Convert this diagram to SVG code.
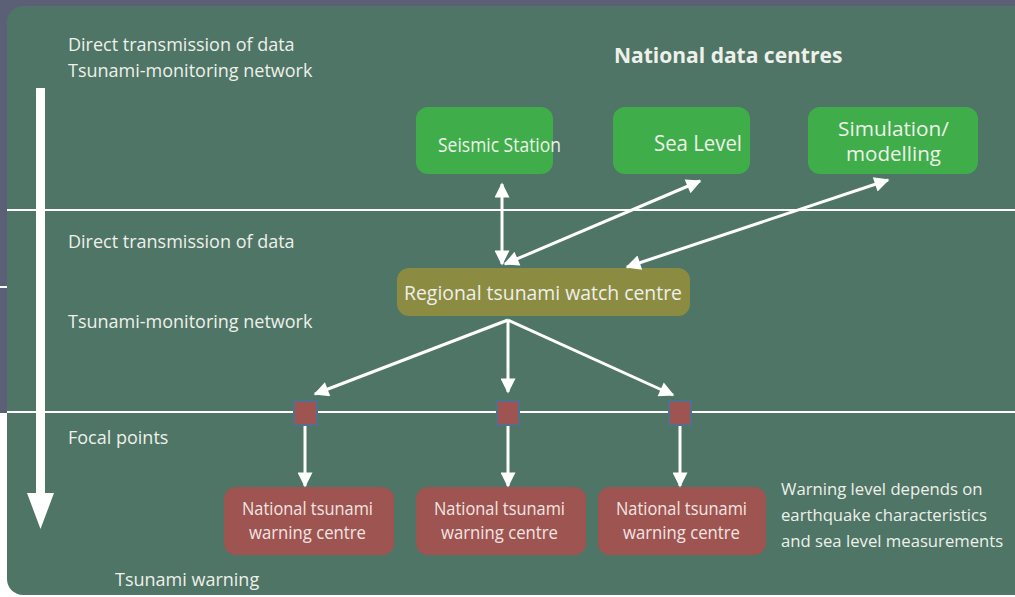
<svg xmlns="http://www.w3.org/2000/svg" width="1015" height="597" viewBox="0 0 1015 597">
<defs>
<style>
.t{font-family:"Open Sans","Noto Sans","Liberation Sans",sans-serif;fill:#eef0ea;}
.lbl{font-size:18px;}
.note{font-size:16.7px;}
.nat{font-size:18px;fill:#f3e4e2;}
.ln{stroke:#fff;stroke-width:3;fill:none;}
.sep{stroke:#fff;stroke-width:2;}
.green{fill:#3fae4a;}
.red{fill:#9e5450;}
.focal{fill:#9e5450;stroke:#51708a;stroke-width:2;}
</style>
<marker id="ah" viewBox="0 0 10 10" refX="9" refY="5" markerWidth="6" markerHeight="5" markerUnits="strokeWidth" orient="auto-start-reverse">
<path d="M0,0 L10,5 L0,10 Z" fill="#fff"/>
</marker>
</defs>
<rect x="0" y="0" width="1015" height="597" fill="#fff"/>
<rect x="0" y="0" width="1015" height="413" fill="#5b6077"/>
<rect x="7" y="6" width="1030" height="589" rx="16" fill="#4e7565"/>
<line x1="0" y1="287" x2="7" y2="287" class="sep"/>
<line x1="7" y1="210" x2="1015" y2="210" class="sep"/>
<line x1="7" y1="412" x2="1015" y2="412" class="sep"/>
<g id="flow-arrow">
<rect x="36" y="88" width="9" height="408" fill="#fff"/>
<path d="M27,493 L54,493 L40.5,529 Z" fill="#fff"/>
</g>
<g id="side-labels">
<text class="t lbl" x="68" y="51">Direct transmission of data</text>
<text class="t lbl" x="68" y="77">Tsunami-monitoring network</text>
<text class="t lbl" x="68" y="248">Direct transmission of data</text>
<text class="t lbl" x="68" y="328">Tsunami-monitoring network</text>
<text class="t lbl" x="68" y="444">Focal points</text>
<text class="t lbl" x="115" y="586">Tsunami warning</text>
<text class="t" x="614" y="63" font-size="21" font-weight="bold">National data centres</text>
</g>
<g id="seismic">
<rect class="green" x="416" y="107" width="137" height="67" rx="12"/>
<text class="t" x="438" y="152" font-size="20" textLength="123" lengthAdjust="spacingAndGlyphs">Seismic Station</text>
</g>
<g id="sealevel">
<rect class="green" x="613" y="107" width="137" height="67" rx="12"/>
<text class="t" x="654" y="151" font-size="21" textLength="88" lengthAdjust="spacingAndGlyphs">Sea Level</text>
</g>
<g id="simulation">
<rect class="green" x="808" y="107" width="170" height="67" rx="12"/>
<text class="t" x="838" y="136" font-size="20" textLength="111" lengthAdjust="spacingAndGlyphs">Simulation/</text>
<text class="t" x="846" y="161" font-size="20" textLength="95" lengthAdjust="spacingAndGlyphs">modelling</text>
</g>
<g id="regional">
<rect x="397" y="268" width="293" height="48" rx="12" fill="#8b8b41"/>
<text class="t" x="404" y="300" font-size="20" textLength="278" lengthAdjust="spacingAndGlyphs">Regional tsunami watch centre</text>
</g>
<g id="focal1"><rect class="focal" x="294" y="401" width="23" height="24"/></g>
<g id="focal2"><rect class="focal" x="497" y="401" width="22" height="24"/></g>
<g id="focal3"><rect class="focal" x="669" y="401" width="22" height="24"/></g>
<g id="nat1">
<rect class="red" x="224" y="487" width="170" height="68" rx="12"/>
<text class="t nat" x="242" y="515" textLength="131" lengthAdjust="spacingAndGlyphs">National tsunami</text>
<text class="t nat" x="249" y="539" textLength="117" lengthAdjust="spacingAndGlyphs">warning centre</text>
</g>
<g id="nat2">
<rect class="red" x="416" y="487" width="170" height="68" rx="12"/>
<text class="t nat" x="434" y="515" textLength="131" lengthAdjust="spacingAndGlyphs">National tsunami</text>
<text class="t nat" x="441" y="539" textLength="117" lengthAdjust="spacingAndGlyphs">warning centre</text>
</g>
<g id="nat3">
<rect class="red" x="598" y="487" width="168" height="68" rx="12"/>
<text class="t nat" x="616" y="515" textLength="131" lengthAdjust="spacingAndGlyphs">National tsunami</text>
<text class="t nat" x="623" y="539" textLength="117" lengthAdjust="spacingAndGlyphs">warning centre</text>
</g>
<g id="note">
<text class="t note" x="781" y="495">Warning level depends on</text>
<text class="t note" x="781" y="521">earthquake characteristics</text>
<text class="t note" x="781" y="547">and sea level measurements</text>
</g>
<g id="connectors">
<line class="ln" x1="502" y1="184" x2="502" y2="264" marker-start="url(#ah)" marker-end="url(#ah)"/>
<line class="ln" x1="505" y1="264" x2="700" y2="181" marker-start="url(#ah)" marker-end="url(#ah)"/>
<line class="ln" x1="627" y1="267" x2="888" y2="180" marker-start="url(#ah)" marker-end="url(#ah)"/>
<line class="ln" x1="508" y1="320" x2="315" y2="394" marker-end="url(#ah)"/>
<line class="ln" x1="508" y1="320" x2="508" y2="392" marker-end="url(#ah)"/>
<line class="ln" x1="508" y1="320" x2="673" y2="395" marker-end="url(#ah)"/>
<line class="ln" x1="305" y1="426" x2="305" y2="486" marker-end="url(#ah)"/>
<line class="ln" x1="508" y1="426" x2="508" y2="486" marker-end="url(#ah)"/>
<line class="ln" x1="680" y1="426" x2="680" y2="486" marker-end="url(#ah)"/>
</g>
</svg>
